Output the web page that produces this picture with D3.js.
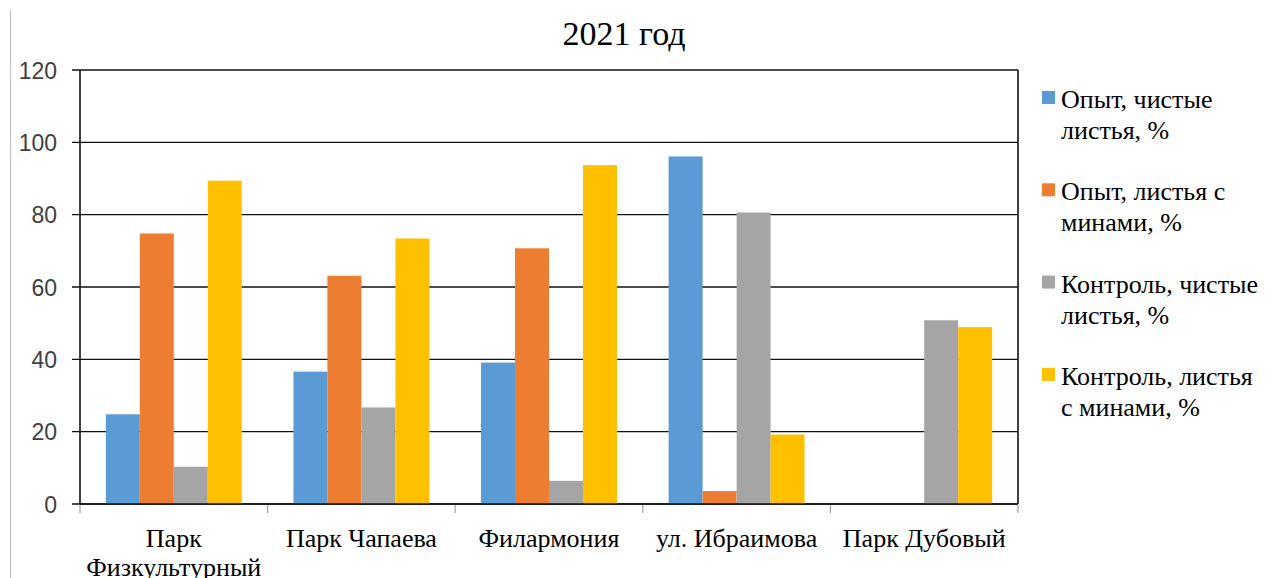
<!DOCTYPE html>
<html lang="ru">
<head>
  <meta charset="UTF-8">
  <script src="https://cdn.jsdelivr.net/npm/d3@7"></script>
  <title>2021 год</title>
  <style>
    body { margin: 0; background: #fff; }
  </style>
</head>
<body>
  <svg></svg>
<script>
const width = 1274;
const height = 578;

const categories = [['Парк', 'Физкультурный'], ['Парк Чапаева'], ['Филармония'], ['ул. Ибраимова'], ['Парк Дубовый']];
const seriesNames = [
  ['Опыт, чистые', 'листья, %'],
  ['Опыт, листья с', 'минами, %'],
  ['Контроль, чистые', 'листья, %'],
  ['Контроль, листья', 'с минами, %']
];
const seriesColors = ['#5B9BD5', '#ED7D31', '#A5A5A5', '#FFC000'];
const opytClean = [24.8, 36.6, 39.1, 96.1, 0];
const opytMines = [74.8, 63.1, 70.7, 3.6, 0];
const controlClean = [10.3, 26.7, 6.4, 80.6, 50.8];
const controlMines = [89.4, 73.4, 93.7, 19.2, 48.9];
const yTicks = [0, 20, 40, 60, 80, 100, 120];

const values = [opytClean, opytMines, controlClean, controlMines];

const plot = { left: 80, right: 1018, top: 70, bottom: 504 };

const svg = d3.select('svg').attr('width', width).attr('height', height);

// рамка слева
svg.append('line')
  .attr('x1', 10.5).attr('x2', 10.5).attr('y1', 10).attr('y2', height)
  .attr('stroke', '#bfbfbf').attr('stroke-width', 1);

const catKeys = categories.map((c, i) => i);
const x0 = d3.scaleBand().domain(catKeys).range([plot.left, plot.right]);
const x1 = d3.scaleBand().domain(d3.range(seriesNames.length))
  .range([0, x0.bandwidth()]).paddingInner(0).paddingOuter(0.76);
const y = d3.scaleLinear().domain([0, 120]).range([plot.bottom, plot.top]);

// сетка
svg.append('g').selectAll('line')
  .data(yTicks)
  .enter().append('line')
  .attr('x1', plot.left - 8).attr('x2', plot.right)
  .attr('y1', d => y(d)).attr('y2', d => y(d))
  .attr('stroke', '#111').attr('stroke-width', 1.4);

// подписи оси Y
const yAxis = d3.axisLeft(y).tickValues(yTicks).tickSize(0).tickPadding(0);
const yg = svg.append('g').attr('transform', `translate(${plot.left - 23},0)`).call(yAxis);
yg.select('.domain').remove();
yg.selectAll('text')
  .attr('font-family', 'Liberation Sans, Arial, sans-serif')
  .attr('font-size', 23)
  .attr('fill', '#404040')
  .attr('dy', '0.36em');

// столбцы
const groups = svg.append('g').selectAll('g')
  .data(catKeys)
  .enter().append('g')
  .attr('transform', d => `translate(${x0(d)},0)`);

groups.selectAll('rect')
  .data(ci => values.map((v, si) => ({ si, v: v[ci] })))
  .enter().append('rect')
  .attr('x', d => x1(d.si))
  .attr('width', x1.bandwidth())
  .attr('y', d => y(d.v))
  .attr('height', d => y(0) - y(d.v))
  .attr('fill', d => seriesColors[d.si]);

// рамка области построения
svg.append('line')
  .attr('x1', plot.left).attr('x2', plot.left).attr('y1', plot.top).attr('y2', plot.bottom)
  .attr('stroke', '#111').attr('stroke-width', 1.6);
svg.append('line')
  .attr('x1', plot.right).attr('x2', plot.right).attr('y1', plot.top).attr('y2', plot.bottom)
  .attr('stroke', '#111').attr('stroke-width', 1.6);
svg.append('line')
  .attr('x1', plot.left).attr('x2', plot.right).attr('y1', plot.bottom).attr('y2', plot.bottom)
  .attr('stroke', '#111').attr('stroke-width', 1.6);

// деления оси X
const boundaries = catKeys.map(d => x0(d)).concat([plot.right]);
svg.append('g').selectAll('line')
  .data(boundaries)
  .enter().append('line')
  .attr('x1', d => d).attr('x2', d => d)
  .attr('y1', plot.bottom + 1).attr('y2', plot.bottom + 9)
  .attr('stroke', '#a0a0a0').attr('stroke-width', 1.2);

// подписи категорий
const catText = svg.append('g').selectAll('text')
  .data(catKeys)
  .enter().append('text')
  .attr('x', d => x0(d) + x0.bandwidth() / 2)
  .attr('y', 547)
  .attr('text-anchor', 'middle')
  .attr('font-family', 'Liberation Serif, Times New Roman, serif')
  .attr('font-size', 26)
  .attr('fill', '#000');
catText.selectAll('tspan')
  .data(d => categories[d])
  .enter().append('tspan')
  .attr('x', function () { return this.parentNode.getAttribute('x'); })
  .attr('dy', (d, i) => i === 0 ? 0 : 29)
  .text(d => d);

// заголовок
svg.append('text')
  .attr('x', 624).attr('y', 45)
  .attr('text-anchor', 'middle')
  .attr('font-family', 'Liberation Serif, Times New Roman, serif')
  .attr('font-size', 34)
  .attr('fill', '#000')
  .text('2021 год');

// легенда
const legend = svg.append('g').selectAll('g')
  .data(seriesNames)
  .enter().append('g')
  .attr('transform', (d, i) => `translate(1042,${108 + i * 92.3})`);
legend.append('rect')
  .attr('x', 0).attr('y', -17).attr('width', 13).attr('height', 13)
  .attr('fill', (d, i) => seriesColors[i]);
const lt = legend.append('text')
  .attr('x', 19).attr('y', 0)
  .attr('font-family', 'Liberation Serif, Times New Roman, serif')
  .attr('font-size', 26)
  .attr('fill', '#000');
lt.selectAll('tspan')
  .data(d => d)
  .enter().append('tspan')
  .attr('x', 19)
  .attr('dy', (d, i) => i === 0 ? 0 : 31)
  .text(d => d);
</script>
</body>
</html>
